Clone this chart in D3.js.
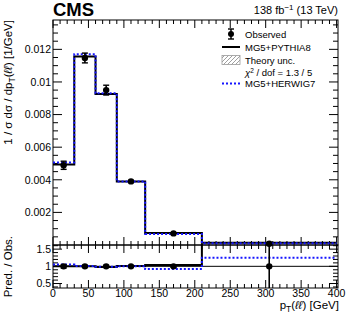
<!DOCTYPE html>
<html>
<head>
<meta charset="utf-8">
<script src="https://cdn.jsdelivr.net/npm/d3@7"></script>
<style>
body { margin: 0; background: #fff; }
svg text { font-family: "Liberation Sans", Arial, sans-serif; }
</style>
</head>
<body>
<svg id="graph"></svg>
<script>
//Bin edges of pT(ll) in GeV
var binEdges = [0, 30, 60, 90, 130, 210, 400];
//Observed points (bin centres, values, errors)
var obsX = [15, 45, 75, 110, 170, 305];
var obsY = [0.00489, 0.01147, 0.0095, 0.0039, 0.00071, 0.00008];
var obsErr = [0.00025, 0.0003, 0.0003, 0.00006, 0.00002, 0.00006];
//Predictions
var pythiaY = [0.00494, 0.01156, 0.00926, 0.0039, 0.00073, 0.00014];
var herwigY = [0.00506, 0.0117, 0.0093, 0.0039, 0.00068, 0.0001];
//Ratios pred / obs
var pythiaRatio = [1.0, 1.0, 0.98, 1.01, 1.04, 1.7];
var herwigRatio = [1.05, 1.01, 0.99, 1.0, 0.92, 1.25];
var obsRatioErr = [0.05, 0.03, 0.03, 0.02, 0.03, 2.0];
//Tick labels
var mainTicks = [0.002, 0.004, 0.006, 0.008, 0.01, 0.012];
var mainTickLabels = ["0.002", "0.004", "0.006", "0.008", "0.01", "0.012"];
var ratioTicks = [0.5, 1, 1.5];
var ratioTickLabels = ["0.5", "1", "1.5"];
var xTicks = [0, 50, 100, 150, 200, 250, 300, 350, 400];

var screen = {width: 349, height: 319};
var svg = d3.select("#graph")
    .attr("width", screen.width)
    .attr("height", screen.height);

//Panel geometry
var left = 53, right = 338;
var mainTop = 20, mainBottom = 245, ratioBottom = 288;

var xScale = d3.scaleLinear().domain([0, 402]).range([left, right]);
var yScale = d3.scaleLinear().domain([0, 0.0138]).range([mainBottom, mainTop]);
var rScale = d3.scaleLinear().domain([0.37, 1.62]).range([ratioBottom, mainBottom]);

//Clip paths
var defs = svg.append("defs");
defs.append("clipPath").attr("id", "clipMain").append("rect")
    .attr("x", left).attr("y", mainTop).attr("width", right - left).attr("height", mainBottom - mainTop);
defs.append("clipPath").attr("id", "clipRatio").append("rect")
    .attr("x", left).attr("y", mainBottom - 1).attr("width", right - left).attr("height", ratioBottom - mainBottom + 1);
var pat = defs.append("pattern").attr("id", "hatch").attr("patternUnits", "userSpaceOnUse")
    .attr("width", 4).attr("height", 4);
pat.append("path").attr("d", "M0,4 L4,0").attr("stroke", "#888").attr("stroke-width", 0.8);

//Build step path from values
var stepPath = function(values, sy)
{
    var pts = [];
    values.forEach(function(v, i){
        pts.push([xScale(binEdges[i]), sy(v)]);
        pts.push([xScale(binEdges[i + 1]), sy(v)]);
    });
    return d3.line()(pts);
}

//Draw ticks for a frame
var drawAxes = function(sy, y0, y1, majorY, minorY, topTicks)
{
    var g = svg.append("g");
    var xMinor = d3.range(0, 401, 10);
    //bottom and top x ticks
    xMinor.forEach(function(v){
        var major = v % 50 == 0;
        var len = major ? 8 : 4;
        g.append("line").attr("x1", xScale(v)).attr("x2", xScale(v))
            .attr("y1", y1).attr("y2", y1 - len).attr("stroke", "#000").attr("stroke-width", 1);
        if (topTicks) {
            g.append("line").attr("x1", xScale(v)).attr("x2", xScale(v))
                .attr("y1", y0).attr("y2", y0 + len).attr("stroke", "#000").attr("stroke-width", 1);
        }
    });
    //left and right y ticks
    minorY.forEach(function(v){
        var major = majorY.some(function(m){ return Math.abs(m - v) < 1e-9; });
        var len = major ? 9 : 5;
        [left, right].forEach(function(x){
            var dir = x == left ? 1 : -1;
            g.append("line").attr("x1", x).attr("x2", x + dir * len)
                .attr("y1", sy(v)).attr("y2", sy(v)).attr("stroke", "#000").attr("stroke-width", 1);
        });
    });
    g.append("rect").attr("x", left).attr("y", y0).attr("width", right - left).attr("height", y1 - y0)
        .attr("fill", "none").attr("stroke", "#000").attr("stroke-width", 1);
}

//Main panel axes
drawAxes(yScale, mainTop, mainBottom, mainTicks,
    d3.range(1, 28).map(function(i){ return i * 0.0005; }), true);
mainTicks.forEach(function(v, i){
    svg.append("text").attr("x", left - 2).attr("y", yScale(v) + 3.8)
        .attr("text-anchor", "end").attr("font-size", 10.5).text(mainTickLabels[i]);
});

//Ratio panel axes
drawAxes(rScale, mainBottom, ratioBottom, ratioTicks,
    d3.range(4, 17).map(function(i){ return i * 0.1; }), true);
ratioTicks.forEach(function(v, i){
    svg.append("text").attr("x", left - 2).attr("y", rScale(v) + 3.8)
        .attr("text-anchor", "end").attr("font-size", 10.5).text(ratioTickLabels[i]);
});
xTicks.forEach(function(v){
    svg.append("text").attr("x", xScale(v)).attr("y", ratioBottom + 9)
        .attr("text-anchor", "middle").attr("font-size", 10.5).text(v);
});

//Main panel histograms
var gMain = svg.append("g").attr("clip-path", "url(#clipMain)");
gMain.append("path").attr("d", stepPath(pythiaY, yScale))
    .attr("fill", "none").attr("stroke", "#000").attr("stroke-width", 2);
gMain.append("path").attr("d", stepPath(herwigY, yScale))
    .attr("fill", "none").attr("stroke", "#1515ff").attr("stroke-width", 2).attr("stroke-dasharray", "2,2");

//Observed points with error bars
var drawPoints = function(g, xs, ys, errs, sy)
{
    xs.forEach(function(x, i){
        var cx = xScale(x);
        g.append("line").attr("x1", cx).attr("x2", cx)
            .attr("y1", sy(ys[i] - errs[i])).attr("y2", sy(ys[i] + errs[i]))
            .attr("stroke", "#000").attr("stroke-width", 1.6);
        [ys[i] - errs[i], ys[i] + errs[i]].forEach(function(e){
            g.append("line").attr("x1", cx - 3).attr("x2", cx + 3)
                .attr("y1", sy(e)).attr("y2", sy(e)).attr("stroke", "#000").attr("stroke-width", 1.4);
        });
        g.append("circle").attr("cx", cx).attr("cy", sy(ys[i])).attr("r", 3.2).attr("fill", "#000");
    });
}
var gMainPts = svg.append("g");
drawPoints(gMainPts, obsX, obsY, obsErr, yScale);

//Ratio panel
var gRatio = svg.append("g").attr("clip-path", "url(#clipRatio)");
gRatio.append("line").attr("x1", left).attr("x2", right).attr("y1", rScale(1)).attr("y2", rScale(1))
    .attr("stroke", "#000").attr("stroke-width", 1);
gRatio.append("path").attr("d", stepPath(pythiaRatio, rScale))
    .attr("fill", "none").attr("stroke", "#000").attr("stroke-width", 2);
gRatio.append("path").attr("d", stepPath(herwigRatio, rScale))
    .attr("fill", "none").attr("stroke", "#1515ff").attr("stroke-width", 2).attr("stroke-dasharray", "2,2");
drawPoints(gRatio, obsX, obsX.map(function(){ return 1; }), obsRatioErr, rScale);

//CMS label and lumi
svg.append("text").attr("x", left).attr("y", 16).attr("font-size", 18.5).attr("font-weight", "bold").text("CMS");
var lumi = svg.append("text").attr("x", right).attr("y", 14).attr("text-anchor", "end").attr("font-size", 11);
lumi.append("tspan").text("138 fb");
lumi.append("tspan").attr("dy", -4).attr("font-size", 8).text("\u22121");
lumi.append("tspan").attr("dy", 4).text(" (13 TeV)");

//Legend
var lx = 222, tx = 245;
var gLeg = svg.append("g");
//Observed
gLeg.append("line").attr("x1", lx + 9).attr("x2", lx + 9).attr("y1", 29).attr("y2", 39).attr("stroke", "#000").attr("stroke-width", 1.5);
[29, 39].forEach(function(y){
    gLeg.append("line").attr("x1", lx + 6).attr("x2", lx + 12).attr("y1", y).attr("y2", y).attr("stroke", "#000").attr("stroke-width", 1.4);
});
gLeg.append("circle").attr("cx", lx + 9).attr("cy", 34).attr("r", 3).attr("fill", "#000");
gLeg.append("text").attr("x", tx).attr("y", 37.5).attr("font-size", 9.5).text("Observed");
//Pythia
gLeg.append("line").attr("x1", lx).attr("x2", lx + 18).attr("y1", 47).attr("y2", 47).attr("stroke", "#000").attr("stroke-width", 2);
gLeg.append("text").attr("x", tx).attr("y", 50.5).attr("font-size", 9.5).text("MG5+PYTHIA8");
//Theory unc
gLeg.append("rect").attr("x", lx).attr("y", 55.5).attr("width", 18).attr("height", 9)
    .attr("fill", "url(#hatch)").attr("stroke", "#999").attr("stroke-width", 0.8);
gLeg.append("text").attr("x", tx).attr("y", 63.5).attr("font-size", 9.5).text("Theory unc.");
//chi2
var chi = gLeg.append("text").attr("x", tx).attr("y", 76).attr("font-size", 9.5);
chi.append("tspan").attr("font-style", "italic").text("\u03c7");
chi.append("tspan").attr("dy", -3.5).attr("font-size", 6.5).text("2");
chi.append("tspan").attr("dy", 3.5).text(" / dof = 1.3 / 5");
//Herwig
gLeg.append("line").attr("x1", lx).attr("x2", lx + 18).attr("y1", 83.5).attr("y2", 83.5)
    .attr("stroke", "#1515ff").attr("stroke-width", 2).attr("stroke-dasharray", "2,2");
gLeg.append("text").attr("x", tx).attr("y", 87).attr("font-size", 9.5).text("MG5+HERWIG7");

//X axis title
var xt = svg.append("text").attr("x", right + 1).attr("y", 309).attr("text-anchor", "end").attr("font-size", 11.5);
xt.append("tspan").text("p");
xt.append("tspan").attr("dy", 3).attr("font-size", 8.5).text("T");
xt.append("tspan").attr("dy", -3).text("(");
xt.append("tspan").attr("font-style", "italic").text("\u2113\u2113");
xt.append("tspan").text(") [GeV]");

//Main y title
var yt = svg.append("text").attr("transform", "translate(12," + mainTop + ") rotate(-90)")
    .attr("text-anchor", "end").attr("font-size", 11.5);
yt.append("tspan").text("1 / \u03c3 d\u03c3 / dp");
yt.append("tspan").attr("dy", 3).attr("font-size", 8.5).text("T");
yt.append("tspan").attr("dy", -3).text("(");
yt.append("tspan").attr("font-style", "italic").text("\u2113\u2113");
yt.append("tspan").text(") [1/GeV]");

//Ratio y title
svg.append("text").attr("transform", "translate(12,236) rotate(-90)")
    .attr("text-anchor", "end").attr("font-size", 11.5).text("Pred. / Obs.");
</script>
</body>
</html>
